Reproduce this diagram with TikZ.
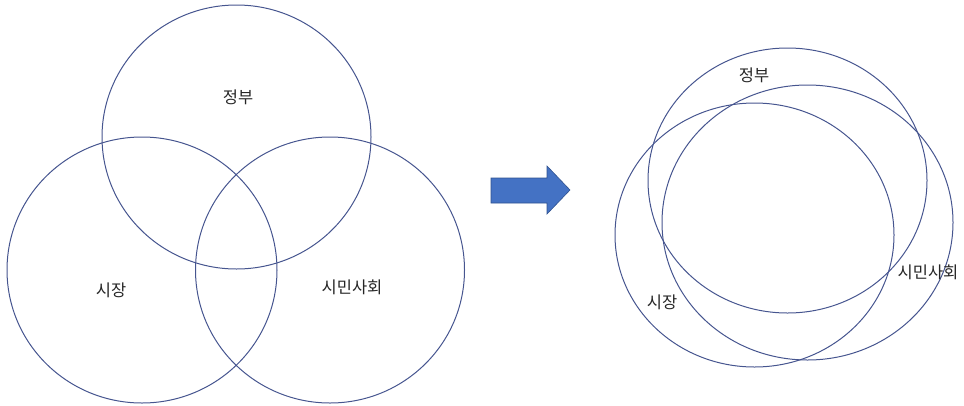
\documentclass[tikz,border=0pt]{standalone}
\usepackage{fontspec}
\setmainfont{Noto Sans CJK KR}
\usetikzlibrary{shapes.geometric}
\definecolor{ringblue}{HTML}{46558F}
\definecolor{arrowfill}{HTML}{4472C4}
\definecolor{arrowedge}{HTML}{2F528F}
\begin{document}
\begin{tikzpicture}[x=1pt,y=-1pt,
  ring/.style={draw=ringblue, line width=1pt, ellipse, inner sep=0pt},
  lbl/.style={font=\fontsize{16.5}{18}\selectfont, inner sep=0pt, text=black!85}]
\useasboundingbox (0,0) rectangle (964,405);
% left Venn
\node[ring, minimum width=269pt, minimum height=264pt] (gov) at (236.5,137) {};
\node[ring, minimum width=270pt, minimum height=266pt] (mkt) at (142,270) {};
\node[ring, minimum width=269pt, minimum height=266pt] (civ) at (330,270) {};
\node[lbl] (govl) at (238,97) {정부};
\node[lbl] (mktl) at (111,290) {시장};
\node[lbl] (civl) at (352,287) {시민사회};
% arrow
\filldraw[fill=arrowfill, draw=arrowedge, line width=0.6pt]
  (491,178) -- (547,178) -- (547,166) -- (570,190) -- (547,214) -- (547,203) -- (491,203) -- cycle;
% right overlapping
\node[ring, minimum width=279pt, minimum height=265pt] (gov2) at (787.5,180.5) {};
\node[ring, minimum width=291pt, minimum height=275pt] (civ2) at (807.5,222.5) {};
\node[ring, minimum width=279pt, minimum height=264pt] (mkt2) at (754.5,235) {};
\node[lbl] (gov2l) at (754,75) {정부};
\node[lbl] (civ2l) at (928,272) {시민사회};
\node[lbl] (mkt2l) at (662,302) {시장};
\end{tikzpicture}
\end{document}
